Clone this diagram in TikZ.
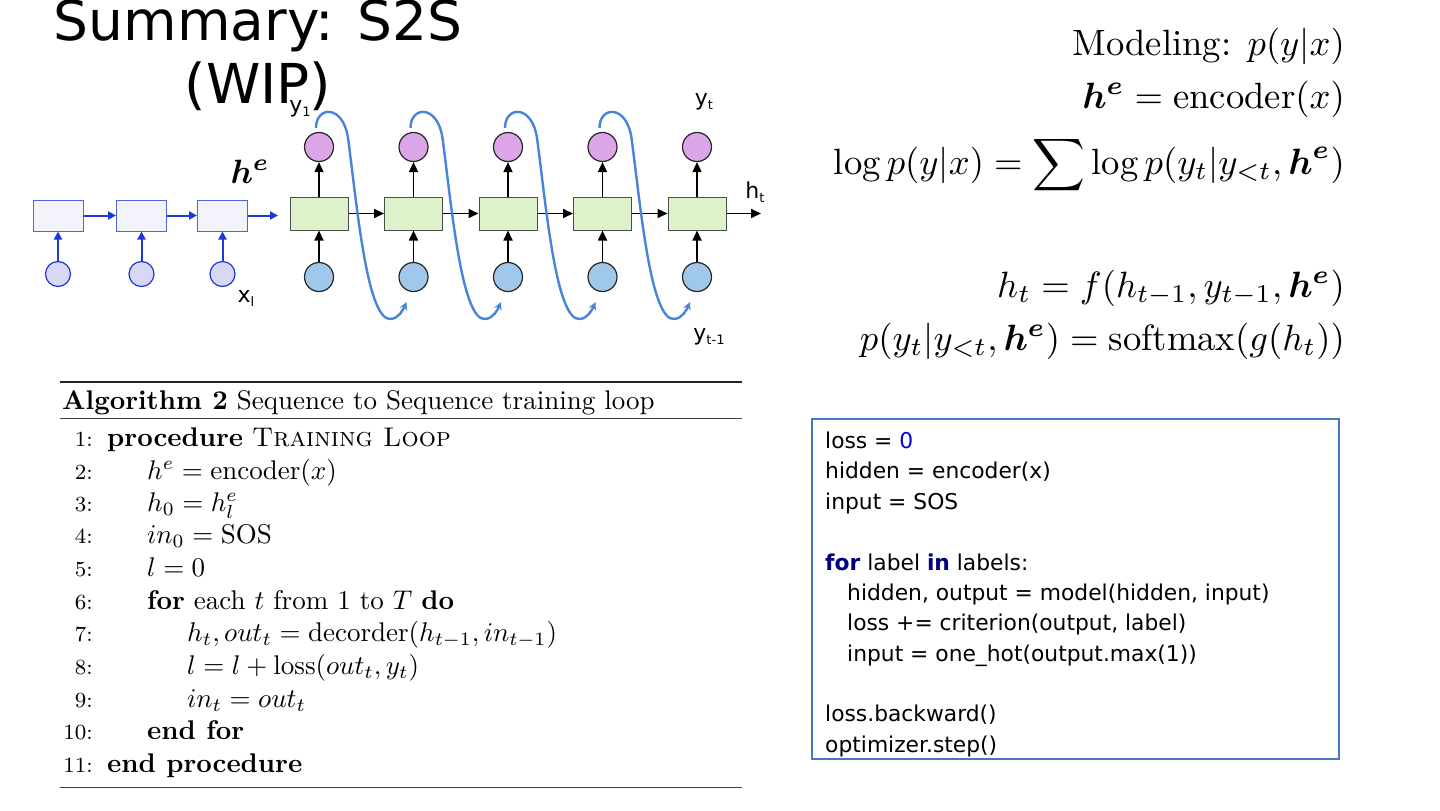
\RequirePackage{fix-cm}
\documentclass[tikz,border=0pt]{standalone}
\usepackage{amsmath}
\usepackage{graphicx}
\usepackage{fontspec}
\usepackage{bm}
\newfontfamily\dejavu{DejaVu Sans}
\usetikzlibrary{arrows.meta,calc}
\definecolor{encblue}{RGB}{30,55,215}
\definecolor{encdraw}{RGB}{80,100,220}
\definecolor{encfill}{RGB}{243,244,251}
\definecolor{enccfill}{RGB}{216,216,244}
\definecolor{decfill}{RGB}{221,241,203}
\definecolor{decdraw}{RGB}{70,80,70}
\definecolor{outfill}{RGB}{220,165,232}
\definecolor{infill}{RGB}{160,200,234}
\definecolor{curveblue}{RGB}{72,132,218}
\definecolor{codeblue}{RGB}{72,118,196}
\definecolor{numblue}{RGB}{0,0,230}
\definecolor{kwnavy}{RGB}{0,0,128}
\newcommand\lsub[1]{\raisebox{-0.4ex}{\fontsize{13}{13}\selectfont #1}}
\newcommand\algs[1]{\scalebox{2.7}{\fontsize{10}{12}\selectfont #1}}
\newcommand\algn[1]{\scalebox{2.7}{\fontsize{8}{9.5}\selectfont #1}}
\newcommand\eqs[1]{\scalebox{3.66}{\fontsize{10}{12}\selectfont #1}}
\begin{document}
\begin{tikzpicture}[x=1pt,y=-1pt,
  encbox/.style={draw=encdraw, fill=encfill, line width=1pt, minimum width=50pt, minimum height=31pt, inner sep=0pt},
  enccirc/.style={circle, draw=encblue, fill=enccfill, line width=1.2pt, minimum size=25pt, inner sep=0pt},
  encarr/.style={draw=encblue, line width=2pt, -{Triangle[length=8pt,width=8pt]}},
  decbox/.style={draw=decdraw, fill=decfill, line width=1pt, minimum width=58pt, minimum height=33pt, inner sep=0pt},
  outcirc/.style={circle, draw=black!85, fill=outfill, line width=1.2pt, minimum size=29pt, inner sep=0pt},
  incirc/.style={circle, draw=black!85, fill=infill, line width=1.2pt, minimum size=29pt, inner sep=0pt},
  decarr/.style={draw=black, line width=1.7pt, -{Triangle[length=10pt,width=9pt]}},
  fbcurve/.style={draw=curveblue, line width=2.4pt, -{Stealth[length=8pt,width=8pt,inset=3pt]}},
  lbl/.style={font=\dejavu\fontsize{22}{26}\selectfont, inner sep=0pt, anchor=base},
  titletxt/.style={font=\dejavu\fontsize{55}{63}\selectfont, inner sep=0pt, anchor=base},
  algtxt/.style={inner sep=0pt, anchor=base west},
  algnum/.style={inner sep=0pt, anchor=base east},
  codetxt/.style={font=\dejavu\fontsize{21.8}{26}\selectfont, inner sep=0pt, anchor=base west},
  eqn/.style={inner sep=0pt, anchor=base east}
]
\useasboundingbox (0,0) rectangle (1440,811);
\fill[white] (0,0) rectangle (1440,811);

% title
\node[titletxt] (title1) at (258,40) {Summary: S2S};
\node[titletxt] (title2) at (258,103) {(WIP)};

% encoder
\foreach \i/\x in {1/58,2/141.5,3/222.5}{
  \node[encbox] (e\i) at (\x,215.5) {};
  \node[enccirc] (ec\i) at (\x,274) {};
  \draw[encarr] (ec\i) -- (e\i);
}
\coordinate (hin) at (278,215.5);
\draw[encarr] (e1) -- (e2);
\draw[encarr] (e2) -- (e3);
\draw[encarr] (e3) -- (hin);

% decoder
\foreach \i in {1,...,5}{
  \pgfmathsetmacro\cx{319+94.5*(\i-1)}
  \node[decbox] (d\i) at (\cx,213.5) {};
  \node[outcirc] (p\i) at (\cx,147) {};
  \node[incirc] (b\i) at (\cx,277) {};
  \draw[decarr] (b\i) -- (d\i);
  \draw[decarr] (d\i) -- (p\i);
}
\foreach \i [evaluate=\i as \j using int(\i+1)] in {1,...,4}{
  \draw[decarr] (d\i) -- (d\j);
}
\coordinate (hout) at (761,213.5);
\draw[decarr] (d5) -- (hout);

% feedback curves
\foreach \i [evaluate=\i as \j using int(\i+1), evaluate=\i as \a using 319+94.5*(\i-1)] in {1,...,4}{
  \draw[fbcurve] ($(p\i.north)+(-3,-4)$) .. controls ({\a-3},106) and ({\a+24},104) .. ({\a+29},138)
     .. controls ({\a+38},205) and ({\a+48},322) .. ({\a+72},319)
     .. controls ({\a+80},318) and ({\a+84},310) .. ($(b\j.south)+(-7,10)$);
}

% labels
\node[lbl] (ly1) at (300,112) {y\lsub{1}};
\node[lbl] (lyt) at (704,105) {y\lsub{t}};
\node[lbl] (lht) at (755,198) {h\lsub{t}};
\node[lbl] (lyt1) at (709,340) {y\lsub{t-1}};
\node[lbl] (lxl) at (246,302) {x\lsub{l}};
\node[inner sep=0pt, anchor=base] (lhe) at (250,183) {\scalebox{3.37}{\fontsize{10}{12}\selectfont $\bm{h}^{\bm{e}}$}};

% right equations
\node[eqn] (eq1) at (1345,55) {\eqs{Modeling: $p(y|x)$}};
\node[eqn] (eq2) at (1345,108) {\eqs{$\bm{h}^{\bm{e}} = \mathrm{encoder}(x)$}};
\node[eqn] (eq3) at (1345,174) {\eqs{$\log p(y|x) = \displaystyle\sum \log p(y_t|y_{<t},\bm{h}^{\bm{e}})$}};
\node[eqn] (eq4) at (1345,297) {\eqs{$h_t = f(h_{t-1},y_{t-1},\bm{h}^{\bm{e}})$}};
\node[eqn] (eq5) at (1345,350) {\eqs{$p(y_t|y_{<t},\bm{h}^{\bm{e}}) = \mathrm{softmax}(g(h_t))$}};

% algorithm
\draw[line width=2pt, black!85] (60,382) -- (742,382);
\draw[line width=1pt, black!75] (60,418) -- (742,418);
\draw[line width=1pt, black!75] (60,787) -- (742,787);
\node[algtxt] (cap) at (62,409) {\algs{\textbf{Algorithm 2} Sequence to Sequence training loop}};
\foreach \n/\y in {1/446,2/479,3/511,4/543,5/576,6/609,7/641,8/674,9/707,10/739,11/772}{
  \node[algnum] (n\n) at (93,\y) {\algn{\n:}};
}
\node[algtxt] (a1) at (107,446) {\algs{\textbf{procedure} \textsc{Training Loop}}};
\node[algtxt] (a2) at (147,479) {\algs{$h^e = \mathrm{encoder}(x)$}};
\node[algtxt] (a3) at (147,511) {\algs{$h_0 = h_l^e$}};
\node[algtxt] (a4) at (147,543) {\algs{$in_0 = \mathrm{SOS}$}};
\node[algtxt] (a5) at (147,576) {\algs{$l = 0$}};
\node[algtxt] (a6) at (147,609) {\algs{\textbf{for} each $t$ from 1 to $T$ \textbf{do}}};
\node[algtxt] (a7) at (187,641) {\algs{$h_t, out_t = \mathrm{decorder}(h_{t-1}, in_{t-1})$}};
\node[algtxt] (a8) at (187,674) {\algs{$l = l + \mathrm{loss}(out_t, y_t)$}};
\node[algtxt] (a9) at (187,707) {\algs{$in_t = out_t$}};
\node[algtxt] (a10) at (147,739) {\algs{\textbf{end for}}};
\node[algtxt] (a11) at (107,772) {\algs{\textbf{end procedure}}};

% code box
\node[draw=codeblue, line width=1.5pt, minimum width=527pt, minimum height=340pt, anchor=north west, inner sep=0pt] (codebox) at (811,418) {};
\node[codetxt] (c1) at (825,448) {loss = {\color{numblue}0}};
\node[codetxt] (c2) at (825,478) {hidden = encoder(x)};
\node[codetxt] (c3) at (825,509) {input = SOS};
\node[codetxt] (c4) at (825,570) {{\color{kwnavy}\bfseries for} label {\color{kwnavy}\bfseries in} labels:};
\node[codetxt] (c5) at (847,600) {hidden, output = model(hidden, input)};
\node[codetxt] (c6) at (847,630) {loss += criterion(output, label)};
\node[codetxt] (c7) at (847,661) {input = one\_hot(output.max(1))};
\node[codetxt] (c8) at (825,721) {loss.backward()};
\node[codetxt] (c9) at (825,752) {optimizer.step()};
\end{tikzpicture}
\end{document}
